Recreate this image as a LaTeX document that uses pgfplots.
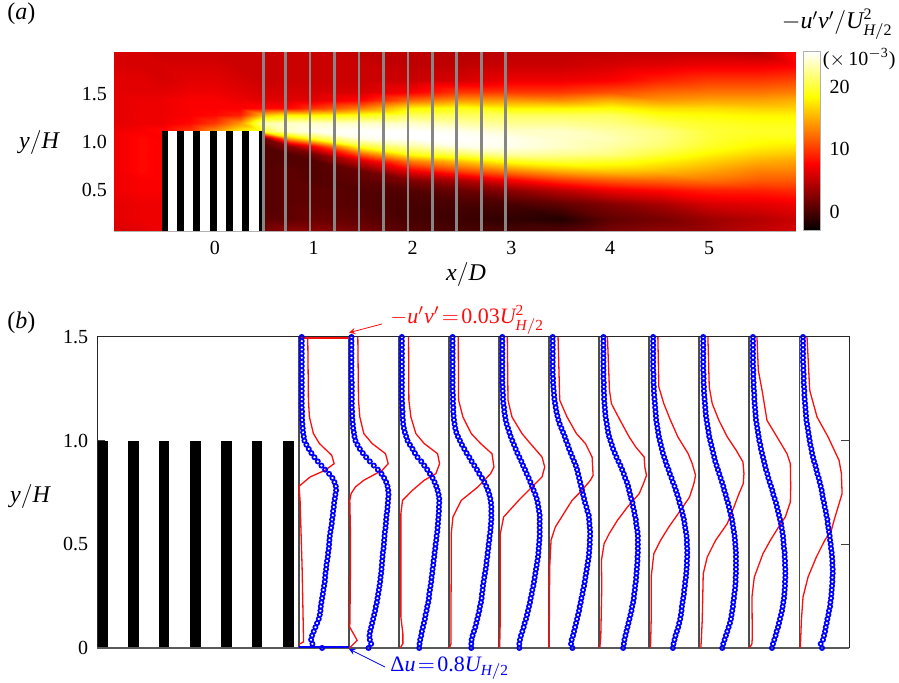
\documentclass[border=0pt]{standalone}
\usepackage{amsmath}
\usepackage{fontspec}
\setmainfont{Liberation Serif}
\usepackage{pgfplots}
\usepackage{pgfplotstable}
\pgfplotsset{compat=1.18}
\newcommand\mi[1]{\text{\itshape #1}}
\newcommand\tx[1]{\text{#1}}
\definecolor{pblue}{rgb}{0.0,0.0,1.0}
\definecolor{pred}{rgb}{1.0,0.05,0.05}
\pgfplotstableread{
y p0 p1 p2 p3 p4 p5 p6 p7 p8 p9 p10
1.50 9 8 9 11 10 11 13 12 12 11 11
1.48 9 8 9 11 10 11 13 12 12 11 11
1.46 9 8 9 11 10 11 13 12 12 11 11
1.44 9 8 9 11 10 11 13 12 12 11 11
1.42 9 8 9 11 10 11 13 12 12 11 11
1.40 9 8 9 11 10 11 13 12 12 11 11
1.38 9 8 9 11 10 11 13 12 12 11 11
1.36 9 8 9 11 10 11 13 12 12 11 12
1.34 9 8 9 11 10 11 13 12 12 12 12
1.32 9 8 9 11 10 11 13 13 13 12 13
1.30 9 8 9 11 10 12 13 13 13 12 13
1.28 9 9 9 11 10 12 14 13 13 13 13
1.26 9 9 9 11 11 13 14 14 14 13 14
1.24 9 9 9 11 11 14 14 14 14 14 15
1.22 9 9 9 12 12 15 15 15 15 15 15
1.20 9 9 9 12 12 16 15 16 16 15 16
1.18 9 9 10 12 13 18 16 17 17 16 17
1.16 9 9 10 13 15 20 17 18 18 17 18
1.14 10 10 11 13 16 22 18 19 19 18 19
1.12 10 10 11 14 18 25 19 20 20 19 20
1.10 10 11 12 15 20 28 21 21 22 20 21
1.08 11 12 13 17 23 32 23 23 24 22 23
1.06 12 13 15 19 27 37 25 25 26 24 25
1.04 13 15 18 22 31 42 27 27 28 26 27
1.02 15 17 22 27 35 47 30 29 30 28 29
1.00 17 20 26 33 40 51 34 32 33 30 31
0.98 23 26 33 39 45 56 38 35 36 33 33
0.96 30 33 41 46 50 60 42 38 39 35 36
0.94 38 42 48 53 55 65 47 41 42 38 38
0.92 47 52 56 61 61 70 52 45 45 41 41
0.90 57 63 67 68 67 75 58 49 48 44 44
0.88 68 75 76 76 72 80 64 53 52 47 48
0.86 79 87 85 84 78 84 69 58 56 50 51
0.84 91 98 93 91 83 87 74 62 60 54 54
0.82 101 106 101 99 89 90 78 67 64 57 58
0.80 107 112 107 106 94 93 83 71 68 61 61
0.78 111 116 112 112 99 96 87 76 72 65 64
0.76 112 118 116 117 104 99 90 80 75 69 67
0.74 110 119 119 121 109 102 93 84 79 72 69
0.72 108 118 121 124 113 105 96 88 82 76 71
0.70 106 117 121 126 116 108 100 91 86 80 74
0.68 105 116 120 127 118 112 102 95 89 83 76
0.66 103 115 120 127 120 115 105 98 92 86 79
0.64 102 113 119 127 122 119 107 101 95 89 81
0.62 100 112 118 127 122 120 110 104 98 92 84
0.60 99 111 117 126 122 121 111 106 100 95 85
0.58 97 110 116 125 122 122 113 108 102 97 87
0.56 95 108 115 124 122 123 115 110 104 99 89
0.54 93 107 113 122 122 123 116 112 106 101 91
0.52 92 106 112 121 121 122 116 113 107 102 92
0.50 91 105 110 119 120 122 116 113 108 103 94
0.48 90 104 109 118 119 121 116 114 109 104 95
0.46 88 102 107 116 118 120 116 114 110 106 97
0.44 87 101 106 115 117 119 115 114 110 106 98
0.42 85 100 104 113 115 117 115 113 110 107 99
0.40 83 99 103 112 113 115 114 113 110 107 99
0.38 82 98 101 110 111 113 113 112 110 108 100
0.36 80 97 100 108 109 111 112 111 110 108 100
0.34 79 95 98 106 107 109 111 110 109 108 99
0.32 78 94 97 104 105 107 110 108 109 107 99
0.30 76 92 95 102 103 105 108 107 108 107 98
0.28 74 90 93 101 100 102 107 105 107 106 97
0.26 72 88 91 99 98 100 105 104 105 105 96
0.24 70 86 90 98 95 97 104 102 104 104 95
0.22 68 84 88 96 93 95 102 100 102 102 93
0.20 66 81 85 93 90 92 99 98 101 100 92
0.18 65 79 83 91 87 90 97 97 99 98 89
0.16 63 76 80 88 84 87 94 95 97 95 87
0.14 60 73 78 85 81 84 91 93 95 92 84
0.12 55 70 75 82 77 81 88 90 92 89 82
0.10 50 67 72 79 74 78 85 87 88 86 79
0.08 45 64 69 75 70 75 82 83 84 82 77
0.06 40 62 67 71 66 72 79 79 80 79 74
0.04 37 63 64 68 63 68 76 76 76 75 71
0.02 41 67 62 67 61 66 74 73 72 71 64
0.00 70 59 61 67 61 70 72 71 69 68 68
}\bluetab
\begin{document}
\begin{tikzpicture}
\path[use as bounding box] (0,0) rectangle (449.5pt,341.5pt);
% ---------- panel (a)
\begin{axis}[
  at={(57pt,226pt)},anchor=south west,scale only axis,width=340.5pt,height=89.5pt,
  xmin=-1.02,xmax=5.87,ymin=0.073,ymax=1.94,
  axis line style={gray!60,line width=0.4pt},
  xtick={0,1,2,3,4,5},xticklabels={0,1,2,3,4,5},
  ytick={0.5,1,1.5},yticklabels={0.5,1.0,1.5},
  tick style={draw=none},
  xticklabel style={yshift=-1.5pt},
  colormap={hotmap}{rgb255(0)=(0,0,0);rgb255(3)=(255,0,0);rgb255(6)=(255,255,0);rgb255(8)=(255,255,255)},
  point meta min=-3,point meta max=25.5,
  colorbar,
  colorbar style={
    at={(1.0125,0)},anchor=south west,scale only axis,width=8.5pt,height=89.5pt,
    axis line style={gray!60,line width=0.5pt},
    ytick={0,10,20},yticklabels={0,10,20},ytick pos=right,
    yticklabel pos=right,
    tick style={draw=none},
    yticklabel style={xshift=1pt},
  },
]
\addplot[surf,shader=interp,point meta=explicit,mesh/cols=19] coordinates {
(-1.02,0.07)[6](-0.75,0.07)[6.5](-0.53,0.07)[7](-0.25,0.07)[7](0,0.07)[7](0.25,0.07)[7](0.5,0.07)[2](0.75,0.07)[3](1,0.07)[3](1.5,0.07)[2](2,0.07)[0.5](2.5,0.07)[0](3,0.07)[0](3.5,0.07)[0.5](4,0.07)[2](4.5,0.07)[3](5,0.07)[3.5](5.5,0.07)[5](5.87,0.07)[6]
(-1.02,0.2)[6.5](-0.75,0.2)[7](-0.53,0.2)[7](-0.25,0.2)[7](0,0.2)[7](0.25,0.2)[7](0.5,0.2)[1](0.75,0.2)[1](1,0.2)[1.5](1.5,0.2)[1](2,0.2)[0](2.5,0.2)[-0.5](3,0.2)[-1](3.5,0.2)[-1.5](4,0.2)[1](4.5,0.2)[2](5,0.2)[3.5](5.5,0.2)[4.5](5.87,0.2)[5.5]
(-1.02,0.35)[6.5](-0.75,0.35)[7](-0.53,0.35)[7](-0.25,0.35)[7](0,0.35)[7](0.25,0.35)[7](0.5,0.35)[0.5](0.75,0.35)[1](1,0.35)[1](1.5,0.35)[0.5](2,0.35)[0](2.5,0.35)[0](3,0.35)[0](3.5,0.35)[1](4,0.35)[2.5](4.5,0.35)[4](5,0.35)[6](5.5,0.35)[6.5](5.87,0.35)[7]
(-1.02,0.5)[7](-0.75,0.5)[7.5](-0.53,0.5)[7.5](-0.25,0.5)[7](0,0.5)[7](0.25,0.5)[7](0.5,0.5)[0.5](0.75,0.5)[1](1,0.5)[1](1.5,0.5)[0.5](2,0.5)[0.5](2.5,0.5)[1.5](3,0.5)[3](3.5,0.5)[5](4,0.5)[7](4.5,0.5)[8](5,0.5)[9](5.5,0.5)[9](5.87,0.5)[9.5]
(-1.02,0.6)[7](-0.75,0.6)[7.5](-0.53,0.6)[7.5](-0.25,0.6)[7](0,0.6)[7](0.25,0.6)[7](0.5,0.6)[0.5](0.75,0.6)[1](1,0.6)[0.5](1.5,0.6)[1](2,0.6)[2.5](2.5,0.6)[4.5](3,0.6)[7.5](3.5,0.6)[10](4,0.6)[11.5](4.5,0.6)[12](5,0.6)[12.5](5.5,0.6)[11.5](5.87,0.6)[11.5]
(-1.02,0.7)[7](-0.75,0.7)[8](-0.53,0.7)[7.5](-0.25,0.7)[7](0,0.7)[7](0.25,0.7)[7](0.5,0.7)[0.5](0.75,0.7)[1](1,0.7)[0.5](1.5,0.7)[1.5](2,0.7)[7](2.5,0.7)[10.5](3,0.7)[13](3.5,0.7)[15](4,0.7)[16](4.5,0.7)[15.5](5,0.7)[14.5](5.5,0.7)[13](5.87,0.7)[13]
(-1.02,0.8)[7](-0.75,0.8)[8](-0.53,0.8)[7.5](-0.25,0.8)[7](0,0.8)[7](0.25,0.8)[7](0.5,0.8)[0.5](0.75,0.8)[0.5](1,0.8)[0.5](1.5,0.8)[6](2,0.8)[13](2.5,0.8)[16](3,0.8)[19](3.5,0.8)[20](4,0.8)[19.5](4.5,0.8)[18](5,0.8)[16.5](5.5,0.8)[15](5.87,0.8)[14.5]
(-1.02,0.88)[7](-0.75,0.88)[8](-0.53,0.88)[7.5](-0.25,0.88)[7](0,0.88)[7](0.25,0.88)[7](0.5,0.88)[0.5](0.75,0.88)[0.5](1,0.88)[2](1.5,0.88)[12](2,0.88)[19](2.5,0.88)[21](3,0.88)[23](3.5,0.88)[22.5](4,0.88)[22](4.5,0.88)[20](5,0.88)[18](5.5,0.88)[16.5](5.87,0.88)[16]
(-1.02,0.96)[7](-0.75,0.96)[8](-0.53,0.96)[7.5](-0.25,0.96)[7](0,0.96)[7](0.25,0.96)[7](0.5,0.96)[0.5](0.75,0.96)[3](1,0.96)[8](1.5,0.96)[20](2,0.96)[23](2.5,0.96)[25](3,0.96)[25](3.5,0.96)[24](4,0.96)[23](4.5,0.96)[21.5](5,0.96)[19.5](5.5,0.96)[18](5.87,0.96)[17.5]
(-1.02,1.04)[7](-0.75,1.04)[8](-0.53,1.04)[7.5](-0.25,1.04)[7](0,1.04)[7](0.25,1.04)[7](0.5,1.04)[2](0.75,1.04)[15](1,1.04)[20](1.5,1.04)[25](2,1.04)[25.5](2.5,1.04)[25.5](3,1.04)[25](3.5,1.04)[24](4,1.04)[23.5](4.5,1.04)[22](5,1.04)[20](5.5,1.04)[19](5.87,1.04)[19]
(-1.02,1.12)[7](-0.75,1.12)[7.5](-0.53,1.12)[8](-0.25,1.12)[10](0,1.12)[14](0.25,1.12)[18](0.5,1.12)[20](0.75,1.12)[24](1,1.12)[25](1.5,1.12)[25.5](2,1.12)[25.5](2.5,1.12)[25](3,1.12)[24](3.5,1.12)[24](4,1.12)[23](4.5,1.12)[22](5,1.12)[20](5.5,1.12)[19.5](5.87,1.12)[19.5]
(-1.02,1.2)[6.5](-0.75,1.2)[7](-0.53,1.2)[7](-0.25,1.2)[8](0,1.2)[10](0.25,1.2)[14](0.5,1.2)[23](0.75,1.2)[24](1,1.2)[24](1.5,1.2)[24](2,1.2)[24](2.5,1.2)[23](3,1.2)[22.5](3.5,1.2)[22.5](4,1.2)[22](4.5,1.2)[20.5](5,1.2)[19.5](5.5,1.2)[19](5.87,1.2)[19]
(-1.02,1.28)[6.5](-0.75,1.28)[7](-0.53,1.28)[7](-0.25,1.28)[7.5](0,1.28)[8](0.25,1.28)[9](0.5,1.28)[16](0.75,1.28)[18](1,1.28)[18](1.5,1.28)[19](2,1.28)[21](2.5,1.28)[21](3,1.28)[21](3.5,1.28)[21](4,1.28)[21](4.5,1.28)[19](5,1.28)[18.5](5.5,1.28)[18](5.87,1.28)[18]
(-1.02,1.36)[6.5](-0.75,1.36)[7](-0.53,1.36)[7](-0.25,1.36)[7.5](0,1.36)[7.5](0.25,1.36)[7.5](0.5,1.36)[8](0.75,1.36)[8](1,1.36)[10](1.5,1.36)[13](2,1.36)[18](2.5,1.36)[19](3,1.36)[18](3.5,1.36)[18](4,1.36)[18.5](4.5,1.36)[17](5,1.36)[17](5.5,1.36)[16.5](5.87,1.36)[16.5]
(-1.02,1.44)[6.5](-0.75,1.44)[7](-0.53,1.44)[7](-0.25,1.44)[7.5](0,1.44)[7.5](0.25,1.44)[7](0.5,1.44)[6.5](0.75,1.44)[6.5](1,1.44)[6.5](1.5,1.44)[8](2,1.44)[12](2.5,1.44)[14](3,1.44)[14](3.5,1.44)[13.5](4,1.44)[15](4.5,1.44)[14](5,1.44)[14.5](5.5,1.44)[14.5](5.87,1.44)[15]
(-1.02,1.52)[6.5](-0.75,1.52)[6.5](-0.53,1.52)[6.5](-0.25,1.52)[7](0,1.52)[7](0.25,1.52)[6.5](0.5,1.52)[6](0.75,1.52)[6](1,1.52)[6](1.5,1.52)[6](2,1.52)[7.5](2.5,1.52)[10](3,1.52)[10](3.5,1.52)[10](4,1.52)[11](4.5,1.52)[12](5,1.52)[12.5](5.5,1.52)[12.5](5.87,1.52)[13]
(-1.02,1.65)[6.5](-0.75,1.65)[6.5](-0.53,1.65)[6](-0.25,1.65)[6.5](0,1.65)[6.5](0.25,1.65)[6](0.5,1.65)[5.5](0.75,1.65)[5.5](1,1.65)[5.5](1.5,1.65)[5.5](2,1.65)[5.5](2.5,1.65)[6](3,1.65)[7](3.5,1.65)[7](4,1.65)[7.5](4.5,1.65)[9](5,1.65)[10](5.5,1.65)[10](5.87,1.65)[10.5]
(-1.02,1.8)[6](-0.75,1.8)[6](-0.53,1.8)[6](-0.25,1.8)[6](0,1.8)[6](0.25,1.8)[5.5](0.5,1.8)[5.5](0.75,1.8)[5.5](1,1.8)[5.5](1.5,1.8)[5.5](2,1.8)[5](2.5,1.8)[5](3,1.8)[5.5](3.5,1.8)[5.5](4,1.8)[6](4.5,1.8)[6.5](5,1.8)[7](5.5,1.8)[7](5.87,1.8)[7.5]
(-1.02,1.94)[6](-0.75,1.94)[6](-0.53,1.94)[5.5](-0.25,1.94)[5.5](0,1.94)[5.5](0.25,1.94)[5.5](0.5,1.94)[5.5](0.75,1.94)[5.5](1,1.94)[5.5](1.5,1.94)[5](2,1.94)[5](2.5,1.94)[4.5](3,1.94)[5](3.5,1.94)[5](4,1.94)[5](4.5,1.94)[5](5,1.94)[5](5.5,1.94)[4.5](5.87,1.94)[8]
};
% obstacle
\addplot[fill=white,draw=none] coordinates {(-0.538,0.073)(-0.538,1.12)(0.508,1.12)(0.508,0.073)} -- cycle;
\addplot[fill=black,draw=none] coordinates {(-0.538,0.073)(-0.538,1.12)(-0.478,1.12)(-0.478,0.073)} -- cycle;
\addplot[fill=black,draw=none] coordinates {(-0.383,0.073)(-0.383,1.12)(-0.309,1.12)(-0.309,0.073)} -- cycle;
\addplot[fill=black,draw=none] coordinates {(-0.218,0.073)(-0.218,1.12)(-0.147,1.12)(-0.147,0.073)} -- cycle;
\addplot[fill=black,draw=none] coordinates {(-0.053,0.073)(-0.053,1.12)(0.022,1.12)(0.022,0.073)} -- cycle;
\addplot[fill=black,draw=none] coordinates {(0.113,0.073)(0.113,1.12)(0.184,1.12)(0.184,0.073)} -- cycle;
\addplot[fill=black,draw=none] coordinates {(0.278,0.073)(0.278,1.12)(0.349,1.12)(0.349,0.073)} -- cycle;
\addplot[fill=black,draw=none] coordinates {(0.443,0.073)(0.443,1.12)(0.508,1.12)(0.508,0.073)} -- cycle;
% measuring stations
\pgfplotsinvokeforeach{0.491,0.717,0.964,1.213,1.46,1.705,1.955,2.204,2.447,2.697,2.943}{
  \addplot[gray!95,line width=1.3pt] coordinates {(#1,0.073)(#1,1.94)};
}
\end{axis}
% ---------- panel (b)
\begin{axis}[
  at={(48.65pt,17.5pt)},anchor=south west,scale only axis,width=376.05pt,height=155.5pt,
  xmin=-0.506,xmax=3.25,ymin=0,ymax=1.5,
  axis line style={black!85,line width=0.5pt},
  xtick=\empty,
  ytick={0,0.5,1,1.5},yticklabels={0,0.5,1.0,1.5},
  ytick pos=both,yticklabel pos=left,
  tick align=inside,
  major tick length=4pt,
  tick style={black!75,line width=0.5pt},
  yticklabel style={xshift=-1pt},
  clip=false,
]
\addplot[fill=black,draw=none] coordinates {(-0.505,0)(-0.505,1)(-0.453,1)(-0.453,0)} -- cycle;
\addplot[fill=black,draw=none] coordinates {(-0.352,0)(-0.352,1)(-0.298,1)(-0.298,0)} -- cycle;
\addplot[fill=black,draw=none] coordinates {(-0.197,0)(-0.197,1)(-0.146,1)(-0.146,0)} -- cycle;
\addplot[fill=black,draw=none] coordinates {(-0.042,0)(-0.042,1)(0.011,1)(0.011,0)} -- cycle;
\addplot[fill=black,draw=none] coordinates {(0.112,0)(0.112,1)(0.166,1)(0.166,0)} -- cycle;
\addplot[fill=black,draw=none] coordinates {(0.267,0)(0.267,1)(0.318,1)(0.318,0)} -- cycle;
\addplot[fill=black,draw=none] coordinates {(0.423,0)(0.423,1)(0.475,1)(0.475,0)} -- cycle;
\addplot[black!65,line width=1pt] coordinates {(-0.506,0)(3.25,0)};
\pgfplotsinvokeforeach{0.5,0.75,1,1.25,1.5,1.75,2,2.25,2.5,2.75,3}{
  \addplot[black!70,line width=0.8pt] coordinates {(#1,0)(#1,1.5)};
}
% scale bars
\addplot[pred,line width=0.9pt] coordinates {(0.5,1.494)(0.75,1.494)};
\addplot[pblue,line width=0.9pt] coordinates {(0.5,0.006)(0.75,0.006)};
% red profiles
\addplot[pred,line width=0.65pt] table[x expr=0.5+0.25*\thisrow{f}/150,y=y] {
y f
1.5 27
1.195 29
1.114 32
1.034 44
0.986 62
0.929 99
0.889 106
0.857 79
0.825 34
0.78 1
0.712 4
0.551 7
0.391 10
0.23 12
0.069 14
0.029 14
0.018 1
};
\addplot[pred,line width=0.65pt] table[x expr=0.75+0.25*\thisrow{f}/150,y=y] {
y f
1.5 27
1.195 29
1.114 33
1.034 45
0.986 70
0.937 110
0.889 118
0.857 100
0.809 45
0.777 20
0.745 7
0.712 3
0.551 5
0.391 5
0.23 4
0.10 3
0.037 25
0.013 10
0 2
};
\addplot[pred,line width=0.65pt] table[x expr=1+0.25*\thisrow{f}/150,y=y] {
y f
1.5 29
1.195 30
1.114 36
1.034 51
0.986 76
0.937 116
0.889 122
0.841 111
0.809 76
0.761 41
0.712 11
0.648 6
0.391 6
0.15 6
0.069 12
0.021 12
0 4
};
\addplot[pred,line width=0.65pt] table[x expr=1.25+0.25*\thisrow{f}/150,y=y] {
y f
1.5 28
1.195 29
1.114 42
1.034 67
0.986 95
0.937 129
0.873 135
0.841 125
0.777 87
0.712 37
0.632 12
0.551 7
0.391 7
0.15 6
0.021 6
0 2
};
\addplot[pred,line width=0.65pt] table[x expr=1.5+0.25*\thisrow{f}/150,y=y] {
y f
1.5 25
1.195 27
1.114 39
1.034 69
0.986 94
0.921 129
0.873 137
0.825 129
0.777 99
0.712 59
0.632 14
0.551 4
0.391 4
0.15 4
0 2
};
\addplot[pred,line width=0.65pt] table[x expr=1.75+0.25*\thisrow{f}/150,y=y] {
y f
1.5 27
1.195 32
1.114 54
1.034 82
0.986 109
0.921 129
0.833 132
0.809 124
0.761 99
0.712 69
0.648 44
0.584 19
0.52 6
0.391 2
0.15 1
0 0
};
\addplot[pred,line width=0.65pt] table[x expr=2+0.25*\thisrow{f}/150,y=y] {
y f
1.5 25
1.243 31
1.178 37
1.098 63
1.018 90
0.969 110
0.921 135
0.873 137
0.833 142
0.793 133
0.744 120
0.68 85
0.616 55
0.551 30
0.503 15
0.423 7
0.294 8
0.053 5
0 2
};
\addplot[pred,line width=0.65pt] table[x expr=2.25+0.25*\thisrow{f}/150,y=y] {
y f
1.5 26
1.259 29
1.178 44
1.098 64
1.018 86
0.937 117
0.889 129
0.833 139
0.793 134
0.728 121
0.664 94
0.584 59
0.519 34
0.455 14
0.342 6
0.133 6
0 4
};
\addplot[pred,line width=0.65pt] table[x expr=2.5+0.25*\thisrow{f}/150,y=y] {
y f
1.5 26
1.259 30
1.178 39
1.098 59
1.018 84
0.953 111
0.897 131
0.841 134
0.793 132
0.744 119
0.68 104
0.6 84
0.519 49
0.439 24
0.358 12
0.133 9
0 5
};
\addplot[pred,line width=0.65pt] table[x expr=2.75+0.25*\thisrow{f}/150,y=y] {
y f
1.5 23
1.34 27
1.227 40
1.098 53
1.018 83
0.937 113
0.889 123
0.777 124
0.704 123
0.632 108
0.584 88
0.519 63
0.455 41
0.342 15
0.246 8
0.053 9
0.021 8
0 1
};
\addplot[pred,line width=0.65pt] table[x expr=3+0.25*\thisrow{f}/150,y=y] {
y f
1.5 23
1.34 28
1.243 31
1.114 53
1.018 86
0.905 119
0.841 126
0.744 128
0.68 116
0.616 104
0.568 96
0.519 76
0.439 51
0.342 26
0.246 11
0.133 6
0 3
};
% blue profiles
\pgfplotsinvokeforeach{0,...,10}{
  \addplot[only marks,mark=o,mark size=1.05pt,pblue,mark options={line width=0.85pt}]
    table[x expr=0.5+0.25*#1+0.25*\thisrow{p#1}/150,y=y] {\bluetab};
}
\end{axis}
% ---------- labels, placed in reference pixels
\begin{scope}[x=0.5pt,y=-0.5pt,shift={(0,341.5pt)}]
\node[anchor=west,inner sep=0] at (7,14) {\fontsize{12}{14}\selectfont (\textit{a})};
\node[anchor=west,inner sep=0] at (7,323) {\fontsize{12}{14}\selectfont (\textit{b})};
\node[inner sep=0] at (39,143) {\fontsize{12}{14}\selectfont $\mi{y}/\mi{H}$};
\node[inner sep=0] at (30,497) {\fontsize{12}{14}\selectfont $\mi{y}/\mi{H}$};
\node[inner sep=0] at (466,275) {\fontsize{12}{14}\selectfont $\mi{x}/\mi{D}$};
\node[anchor=east,inner sep=0] at (893,24) {\fontsize{12}{14}\selectfont $-\mi{u}'\mi{v}'/\mi{U}^{\tx{2}}_{\mi{H}/\tx{2}}$};
\node[anchor=east,inner sep=0] at (896,59) {\fontsize{10}{12}\selectfont (${\times}\,\tx{10}^{-\tx{3}}$)};
\node[anchor=west,inner sep=0,text=pred] at (390,320) {\fontsize{11}{13}\selectfont $\thickmuskip=2mu -\mi{u}'\mi{v}'=\tx{0.03}\mi{U}^{\tx{2}}_{\mi{H}/\tx{2}}$};
\node[anchor=west,inner sep=0,text=pblue] at (390,668) {\fontsize{11}{13}\selectfont $\thickmuskip=2mu \tx{Δ}\mi{u}=\tx{0.8}\mi{U}_{\mi{H}/\tx{2}}$};
\draw[pred,line width=0.4pt,-stealth] (382,324) -- (349,332.7);
\draw[pblue,line width=0.4pt,-stealth] (385,667) -- (349,649);
\end{scope}
\end{tikzpicture}
\end{document}
